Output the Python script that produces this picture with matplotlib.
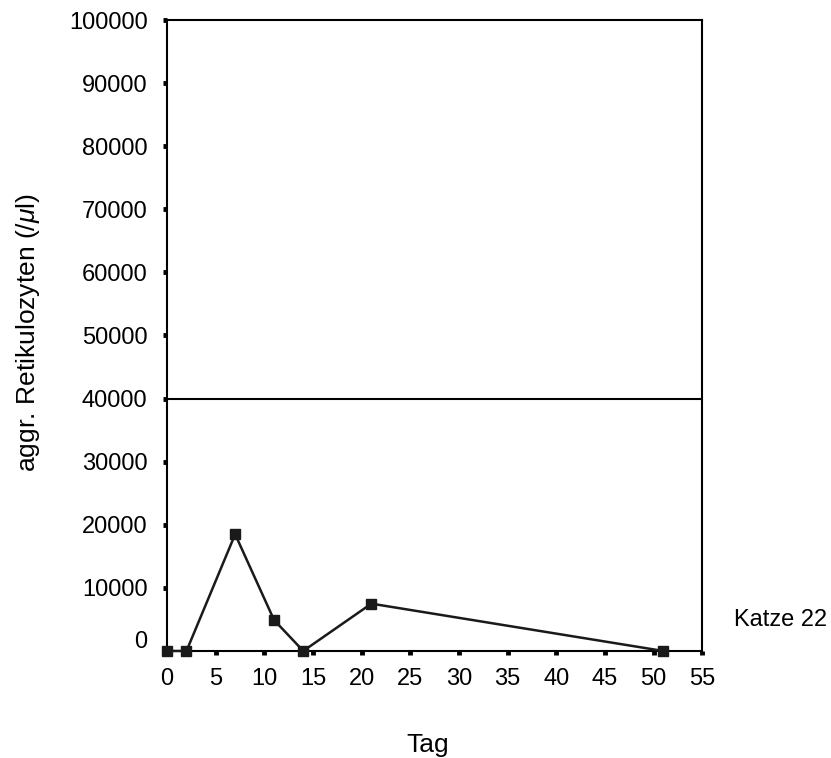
import matplotlib
matplotlib.use("Agg")
import matplotlib.pyplot as plt
import matplotlib.transforms as mtransforms

plt.rcParams["font.family"] = ["Liberation Sans", "DejaVu Sans"]
plt.rcParams["mathtext.fontset"] = "custom"
plt.rcParams["mathtext.it"] = "Liberation Sans:italic"
plt.rcParams["mathtext.rm"] = "Liberation Sans"

# data
tag = [0, 2, 7, 11, 14, 21, 51]
retikulozyten = [0, 0, 18500, 4900, 0, 7500, 0]
ref_line = 40000

x_ticks = list(range(0, 60, 5))
y_ticks = list(range(0, 110000, 10000))

W, H = 831, 758
fig = plt.figure(figsize=(W / 100, H / 100), dpi=100)
ax = fig.add_axes([0.201, 0.1412, 0.644, 0.8324])

ax.plot(tag, retikulozyten, color="#1a1a1a", lw=1.8, marker="s",
        markersize=6.5, markerfacecolor="#1a1a1a", clip_on=False, zorder=3)
ax.axhline(ref_line, color="black", lw=1.5)

ax.set_xlim(0, 55)
ax.set_ylim(0, 100000)
ax.set_xticks(x_ticks)
ax.set_yticks(y_ticks)
ax.set_xticklabels([str(v) for v in x_ticks])
ax.set_yticklabels([str(v) for v in y_ticks])

for s in ax.spines.values():
    s.set_linewidth(1.5)

ax.tick_params(axis="both", direction="out", length=3, width=3.5,
               labelsize=17, color="black")
ax.tick_params(axis="x", pad=9)
ax.tick_params(axis="y", pad=11)

# the "0" on the y axis sits a bit above the tick
lab0 = ax.get_yticklabels()[0]
lab0.set_transform(lab0.get_transform() +
                   mtransforms.ScaledTranslation(0, 11 / 100, fig.dpi_scale_trans))

fig.text(428 / W, 1 - 745 / H, "Tag", fontsize=19, ha="center", va="center")
fig.text(28 / W, 1 - 333 / H, r"aggr. Retikulozyten (/$\mu$l)", fontsize=19,
         rotation=90, ha="center", va="center")
fig.text(734 / W, 1 - 620 / H, "Katze 22", fontsize=17, ha="left", va="center")

fig.savefig("out.png", dpi=100)
